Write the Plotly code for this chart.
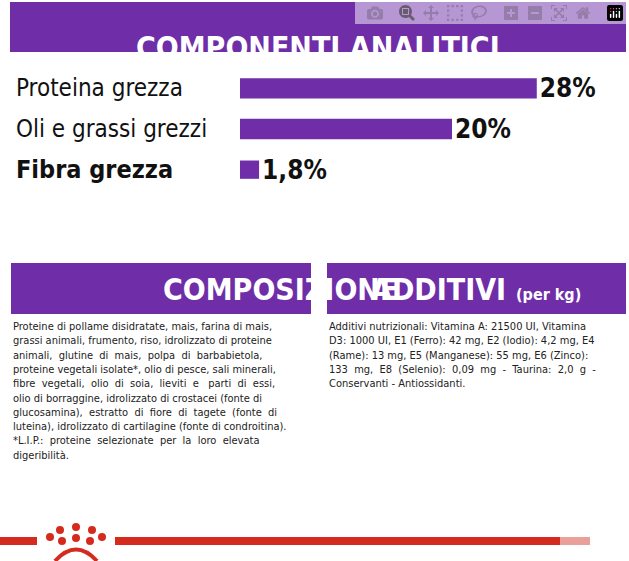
import plotly.graph_objects as go

W, H = 629, 561
PURPLE = "#6f2da8"
RED = "#d52b1e"
FONT = "Liberation Sans Narrow, DejaVu Sans Condensed, Arial Narrow, Roboto, sans-serif"

nutrients = ["Proteina grezza", "Oli e grassi grezzi", "Fibra grezza"]
values = [28, 20, 1.8]
value_labels = ["<b>28%</b>", "<b>20%</b>", "<b>1,8%</b>"]

composizione = [
    "Proteine di pollame disidratate, mais, farina di mais,",
    "grassi animali, frumento, riso, idrolizzato di proteine",
    "animali,  glutine  di  mais,  polpa  di  barbabietola,",
    "proteine vegetali isolate*, olio di pesce, sali minerali,",
    "fibre  vegetali,  olio  di  soia,  lieviti  e   parti  di  essi,",
    "olio di borraggine, idrolizzato di crostacei (fonte di",
    "glucosamina),  estratto  di  fiore  di  tagete  (fonte  di",
    "luteina), idrolizzato di cartilagine (fonte di condroitina).",
    "*L.I.P.:  proteine  selezionate  per  la  loro  elevata",
    "digeribilità.",
]
additivi = [
    "Additivi nutrizionali: Vitamina A: 21500 UI, Vitamina",
    "D3: 1000 UI, E1 (Ferro): 42 mg, E2 (Iodio): 4,2 mg, E4",
    "(Rame): 13 mg, E5 (Manganese): 55 mg, E6 (Zinco):",
    "133  mg,  E8  (Selenio):  0,09  mg  -  Taurina:  2,0  g  -",
    "Conservanti - Antiossidanti.",
]


def py(p):
    return 1 - p / H


def px(p):
    return p / W


fig = go.Figure()
fig.add_trace(go.Bar(
    x=values, y=nutrients, orientation="h",
    marker=dict(color=PURPLE, line=dict(width=0)), width=[0.5, 0.5, 0.45],
    text=value_labels, textposition="outside", cliponaxis=False, constraintext="none",
    textfont=dict(family=FONT, size=26, color="#111"),
    hoverinfo="skip",
))

shapes = [
    dict(type="rect", xref="paper", yref="paper", x0=px(10), x1=px(626), y0=py(52), y1=py(2),
         fillcolor=PURPLE, line=dict(width=0)),
    dict(type="rect", xref="paper", yref="paper", x0=px(11), x1=px(311), y0=py(314), y1=py(263),
         fillcolor=PURPLE, line=dict(width=0)),
    dict(type="rect", xref="paper", yref="paper", x0=px(327), x1=px(626), y0=py(314), y1=py(263),
         fillcolor=PURPLE, line=dict(width=0)),
    dict(type="rect", xref="paper", yref="paper", x0=0, x1=px(37), y0=py(545), y1=py(537),
         fillcolor=RED, line=dict(width=0)),
    dict(type="rect", xref="paper", yref="paper", x0=px(115), x1=px(560), y0=py(545), y1=py(537),
         fillcolor=RED, line=dict(width=0)),
    dict(type="rect", xref="paper", yref="paper", x0=px(560), x1=px(590), y0=py(545), y1=py(537),
         fillcolor="#eaa09a", line=dict(width=0)),
]
# crown dots
for cx, cy in [(50, 537), (60, 530), (76, 527), (92, 530), (102, 537),
               (62, 541), (76, 538), (90, 541)]:
    shapes.append(dict(type="circle", xref="paper", yref="paper",
                       x0=px(cx - 4), x1=px(cx + 4), y0=py(cy + 4), y1=py(cy - 4),
                       fillcolor=RED, line=dict(width=0)))
shapes.append(dict(type="path", xref="paper", yref="paper",
                   path=f"M {px(55)} {py(561)} Q {px(76)} {py(538)} {px(97)} {py(561)}",
                   line=dict(color=RED, width=4)))

annotations = [
    dict(text="<b>COMPONENTI ANALITICI</b>", x=px(318), y=py(28), xref="paper", yref="paper",
         showarrow=False, font=dict(family=FONT, size=30, color="white")),
    dict(text="<b>COMPOSIZIONE</b>", x=px(161), y=py(289), xref="paper", yref="paper",
         showarrow=False, font=dict(family=FONT, size=30, color="white")),
    dict(text="<b>ADDITIVI</b>", x=px(508), y=py(289), xref="paper", yref="paper",
         xanchor="right", showarrow=False, font=dict(family=FONT, size=30, color="white")),
    dict(text="<b>(per kg)</b>", x=px(514), y=py(294), xref="paper", yref="paper",
         xanchor="left", showarrow=False, font=dict(family=FONT, size=16, color="white")),
    dict(text="<br>".join(composizione), x=px(11), y=py(318), xref="paper", yref="paper",
         xanchor="left", yanchor="top", align="left", showarrow=False,
         font=dict(family=FONT, size=11, color="#222")),
    dict(text="<br>".join(additivi), x=px(327), y=py(318), xref="paper", yref="paper",
         xanchor="left", yanchor="top", align="left", showarrow=False,
         font=dict(family=FONT, size=11, color="#222")),
]
for i, name in enumerate(nutrients):
    annotations.append(dict(
        text=f"<b>{name}</b>" if i == 2 else name, x=px(14), y=name, xref="paper", yref="y",
        xanchor="left", showarrow=False,
        font=dict(family=FONT, size=25 if i == 2 else 24, color="#111")))

fig.update_layout(
    width=W, height=H, margin=dict(l=0, r=0, t=0, b=0),
    paper_bgcolor="white", plot_bgcolor="white", showlegend=False,
    shapes=shapes, annotations=annotations,
    xaxis=dict(domain=[px(240), 1], range=[0, 36.7], visible=False),
    yaxis=dict(domain=[py(190), py(68)], autorange="reversed", visible=False),
    bargap=0.3,
)
fig.write_html("out.html", post_script="document.body.style.margin='0';")
